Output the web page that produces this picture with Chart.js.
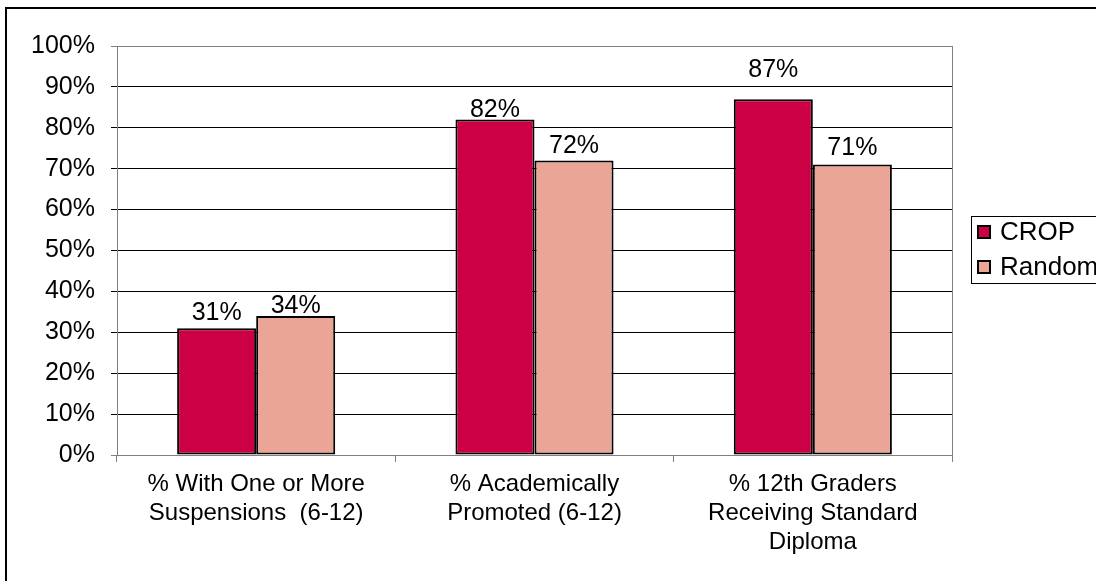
<!DOCTYPE html>
<html>
<head>
<meta charset="utf-8">
<script src="https://cdn.jsdelivr.net/npm/chart.js@4"></script>
<style>
  html, body { margin: 0; padding: 0; background: #fff; overflow: hidden; }
  #wrap { position: relative; width: 1096px; height: 581px; }
  #frame { position: absolute; left: 5px; top: 7px; width: 1200px; height: 700px;
           border-left: 2px solid #000; border-top: 2px solid #000; pointer-events: none; }
</style>
</head>
<body>
<div id="wrap">
  <canvas id="myChart" width="1096" height="581"></canvas>
  <div id="frame"></div>
</div>
<script>
// data
var categories = [
  ['% With One or More', 'Suspensions  (6-12)'],
  ['% Academically', 'Promoted (6-12)'],
  ['% 12th Graders', 'Receiving Standard', 'Diploma']
];
var cropValues = [31, 82, 87];
var randomValues = [34, 72, 71];
var seriesNames = ['CROP', 'Random'];
var yTicks = [0, 10, 20, 30, 40, 50, 60, 70, 80, 90, 100];

// gap between bar top and its label (px), like the original
var labelGap = [[8, 3, 22], [3, 8, 10]];

var FONT = '"Liberation Sans", Arial, sans-serif';

// value labels above the bars
var valueLabels = {
  id: 'valueLabels',
  afterDatasetsDraw: function(chart) {
    var ctx = chart.ctx;
    ctx.save();
    ctx.font = '25px ' + FONT;
    ctx.fillStyle = '#000';
    ctx.textAlign = 'center';
    ctx.textBaseline = 'alphabetic';
    chart.data.datasets.forEach(function(ds, i) {
      chart.getDatasetMeta(i).data.forEach(function(bar, j) {
        ctx.fillText(ds.data[j] + '%', bar.x, bar.y - labelGap[i][j]);
      });
    });
    ctx.restore();
  }
};

// gray border on the right side of the plot
var plotFrame = {
  id: 'plotFrame',
  beforeDatasetsDraw: function(chart) {
    var a = chart.chartArea, ctx = chart.ctx;
    ctx.save();
    ctx.strokeStyle = '#808080';
    ctx.lineWidth = 1;
    ctx.beginPath();
    ctx.moveTo(Math.round(a.right) + 0.5, a.top);
    ctx.lineTo(Math.round(a.right) + 0.5, a.bottom + 7);
    ctx.stroke();
    ctx.restore();
  }
};

// excel style legend box
var boxLegend = {
  id: 'boxLegend',
  afterDraw: function(chart) {
    var ctx = chart.ctx;
    ctx.save();
    ctx.strokeStyle = '#000';
    ctx.lineWidth = 1;
    ctx.strokeRect(971.5, 216.5, 160, 67);
    ctx.font = '26px ' + FONT;
    ctx.textBaseline = 'middle';
    ctx.textAlign = 'left';
    chart.data.datasets.forEach(function(ds, i) {
      var cy = 232 + i * 35;
      ctx.fillStyle = ds.backgroundColor;
      ctx.fillRect(977, cy - 7, 14, 14);
      ctx.lineWidth = 2;
      ctx.strokeRect(978, cy - 6, 12, 12);
      ctx.fillStyle = '#000';
      ctx.fillText(ds.label, 1000, cy + 1);
    });
    ctx.restore();
  }
};

var ctx = document.getElementById('myChart').getContext('2d');
var chart = new Chart(ctx, {
  type: 'bar',
  data: {
    labels: categories,
    datasets: [{
      label: seriesNames[0],
      data: cropValues,
      backgroundColor: '#CC0044',
      borderColor: '#000',
      borderWidth: 2,
      borderSkipped: false
    }, {
      label: seriesNames[1],
      data: randomValues,
      backgroundColor: '#EAA597',
      borderColor: '#000',
      borderWidth: 2,
      borderSkipped: false
    }]
  },
  options: {
    responsive: false,
    animation: false,
    devicePixelRatio: 1,
    layout: { padding: { left: 0, top: 46, right: 144, bottom: 0 } },
    datasets: { bar: { categoryPercentage: 0.568, barPercentage: 1 } },
    plugins: { legend: { display: false }, tooltip: { enabled: false } },
    scales: {
      x: {
        afterFit: function(s) { s.height = 126; },
        grid: { drawOnChartArea: false, drawTicks: true, tickLength: 7, color: '#808080' },
        border: { color: '#808080', width: 1 },
        ticks: { color: '#000', font: { family: FONT, size: 24, lineHeight: 1.2 }, padding: 8, maxRotation: 0, autoSkip: false }
      },
      y: {
        min: 0, max: 100,
        afterFit: function(s) { s.width = 117; },
        afterBuildTicks: function(s) { s.ticks = yTicks.map(function(v) { return { value: v }; }); },
        grid: {
          color: function(c) { return (c.tick && (c.tick.value === 100 || c.tick.value === 0)) ? '#808080' : '#000'; },
          tickLength: 6
        },
        border: { color: '#808080', width: 1 },
        ticks: {
          color: '#000',
          font: { family: FONT, size: 25 },
          padding: 16,
          callback: function(v) { return v + '%'; }
        }
      }
    }
  },
  plugins: [plotFrame, valueLabels, boxLegend]
});
</script>
</body>
</html>
